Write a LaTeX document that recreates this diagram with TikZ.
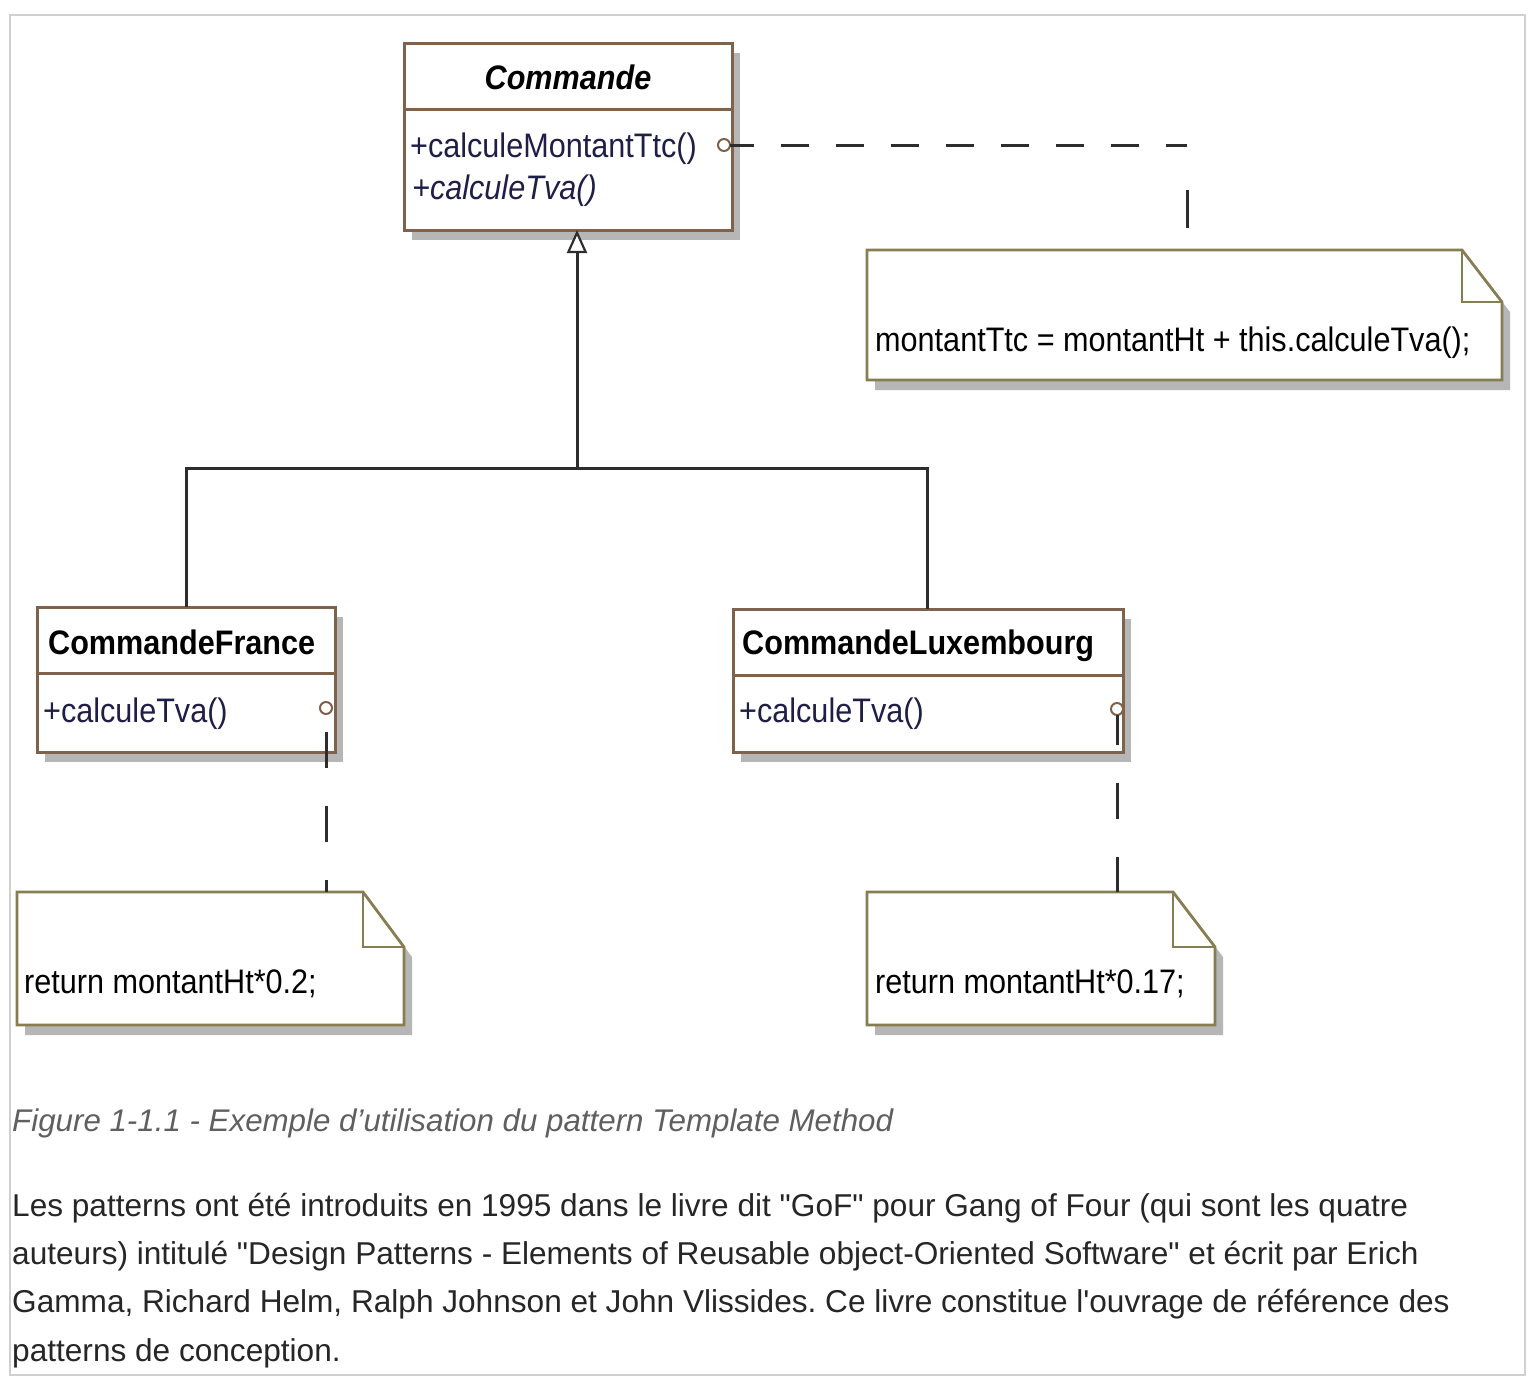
\documentclass[tikz,border=0pt]{standalone}
\usepackage{fontspec}
\usepackage{graphicx}
\setmainfont{Liberation Sans}
\newfontfamily\diagfont{Liberation Sans}
\usetikzlibrary{arrows.meta,shadows,calc}
\frenchspacing
\definecolor{boxbrown}{RGB}{128,98,74}
\definecolor{noteolive}{RGB}{135,125,82}
\definecolor{shadowgray}{RGB}{182,182,182}
\definecolor{opnavy}{RGB}{30,30,70}
\definecolor{framegray}{RGB}{208,208,208}
\definecolor{captiongray}{RGB}{95,95,95}
\definecolor{bodytext}{RGB}{38,38,38}
\definecolor{linegray}{RGB}{45,45,45}
\newcommand\sqz[1]{\scalebox{0.9}[1]{#1}}
\newcommand\drawnote[3]{%
  \fill[shadowgray] ([shift={(8,10)}]#1.north west) -- ([shift={(8-#2,10)}]#1.north east) -- ([shift={(8,10+#3)}]#1.north east) -- ([shift={(8,10)}]#1.south east) -- ([shift={(8,10)}]#1.south west) -- cycle;
  \filldraw[fill=white, draw=noteolive, line width=2.8pt, line join=miter] (#1.north west) -- ([shift={(-#2,0)}]#1.north east) -- ([shift={(0,#3)}]#1.north east) -- (#1.south east) -- (#1.south west) -- cycle;
  \draw[noteolive, line width=2.8pt] ([shift={(-#2,0)}]#1.north east) |- ([shift={(0,#3)}]#1.north east);
}
\begin{document}
\begin{tikzpicture}[x=1pt,y=-1pt,
  classbox/.style={draw=boxbrown, line width=3pt, fill=white, anchor=north west, inner sep=0pt, outer sep=0pt,
    drop shadow={shadow xshift=8pt, shadow yshift=-10pt, fill=shadowgray, opacity=1}},
  notearea/.style={anchor=north west, inner sep=0pt, outer sep=0pt},
  sepline/.style={draw=boxbrown, line width=3pt},
  diag/.style={font=\diagfont\fontsize{34}{40}\selectfont, inner sep=0pt, anchor=base west},
  optext/.style={diag, text=opnavy},
  genline/.style={draw=linegray, line width=3pt},
  dashline/.style={draw=linegray, line width=3pt},
  opcircle/.style={circle, draw=boxbrown, fill=white, line width=2pt, minimum size=12pt, inner sep=0pt, outer sep=0pt},
  bodyline/.style={font=\fontsize{31.6}{48}\selectfont, text=bodytext, anchor=base west, inner sep=0pt},
  captionline/.style={font=\fontsize{31.3}{40}\selectfont\itshape, text=captiongray, anchor=base west, inner sep=0pt}
]
\useasboundingbox (0,0) rectangle (1538,1398);
\fill[white] (0,0) rectangle (1538,1398);
\draw[framegray, line width=1.5pt] (10,15) rectangle (1525,1375);

% ---- class boxes ----
\node[classbox, minimum width=328pt, minimum height=187pt] (cmd) at (404,43) {};
\draw[sepline] ([yshift=-66pt]cmd.north west) -- ([yshift=-66pt]cmd.north east);
\node[classbox, minimum width=298pt, minimum height=145pt] (cf) at (37,607) {};
\draw[sepline] ([yshift=-66pt]cf.north west) -- ([yshift=-66pt]cf.north east);
\node[classbox, minimum width=390pt, minimum height=143pt] (cl) at (733,609) {};
\draw[sepline] ([yshift=-66pt]cl.north west) -- ([yshift=-66pt]cl.north east);

% ---- class texts ----
\node[diag, anchor=base] (cmdname) at (568,89) {\sqz{\bfseries\itshape Commande}};
\node[optext] (cmdop1) at (410,157) {\sqz{+calculeMontantTtc()}};
\node[optext] (cmdop2) at (412,199) {\sqz{\itshape +calculeTva()}};
\node[diag] (cfname) at (48,654) {\sqz{\bfseries CommandeFrance}};
\node[optext] (cfop) at (43,722) {\sqz{+calculeTva()}};
\node[diag] (clname) at (742,654) {\sqz{\bfseries CommandeLuxembourg}};
\node[optext] (clop) at (739,722) {\sqz{+calculeTva()}};

% ---- notes ----
\node[notearea, minimum width=635pt, minimum height=130pt] (note1) at (867,250) {};
\drawnote{note1}{40}{52}
\node[notearea, minimum width=387pt, minimum height=133pt] (note2) at (17,892) {};
\drawnote{note2}{41}{55}
\node[notearea, minimum width=348pt, minimum height=133pt] (note3) at (867,892) {};
\drawnote{note3}{42}{55}
\node[diag] (note1txt) at (875,351) {\sqz{montantTtc = montantHt + this.calculeTva();}};
\node[diag] (note2txt) at (24,993) {\sqz{return montantHt*0.2;}};
\node[diag] (note3txt) at (875,993) {\sqz{return montantHt*0.17;}};

% ---- generalization ----
\coordinate (joint) at (577,468);
\coordinate (lj) at (186,468);
\coordinate (rj) at (927,468);
\draw[genline] (lj |- cf.north) -- (lj) -- (rj) -- (rj |- cl.north);
\draw[genline, -{Triangle[length=23pt, width=20pt, fill=white, line width=2.2pt]}] (joint) -- (joint |- cmd.south);

% ---- note anchors ----
\node[opcircle] (c1) at (724,145) {};
\node[opcircle] (c2) at (326,708) {};
\node[opcircle] (c3) at (1117,709) {};
\coordinate (bend1) at (1187,145);
\draw[dashline, dash pattern=on 28pt off 27pt, dash phase=4pt] (c1.east) -- (bend1);
\draw[dashline, dash pattern=on 38pt off 45pt, dash phase=38pt] (bend1) -- (bend1 |- note1.north);
\draw[dashline, dash pattern=on 36pt off 38pt, dash phase=56pt] (c2.south) -- (c2.south |- note2.north);
\draw[dashline, dash pattern=on 36pt off 38pt, dash phase=6pt] (c3.south) -- (c3.south |- note3.north);

% ---- caption and body text ----
\node[captionline] (caption) at (12,1131) {Figure 1-1.1 - Exemple d’utilisation du pattern Template Method};
\node[bodyline] (body1) at (12,1216) {Les patterns ont été introduits en 1995 dans le livre dit \textquotedbl GoF\textquotedbl{} pour Gang of Four (qui sont les quatre};
\node[bodyline] (body2) at (12,1264) {auteurs) intitulé \textquotedbl Design Patterns - Elements of Reusable object-Oriented Software\textquotedbl{} et écrit par Erich};
\node[bodyline] (body3) at (12,1312) {Gamma, Richard Helm, Ralph Johnson et John Vlissides. Ce livre constitue l\textquotesingle ouvrage de référence des};
\node[bodyline] (body4) at (12,1361) {patterns de conception.};
\end{tikzpicture}
\end{document}
